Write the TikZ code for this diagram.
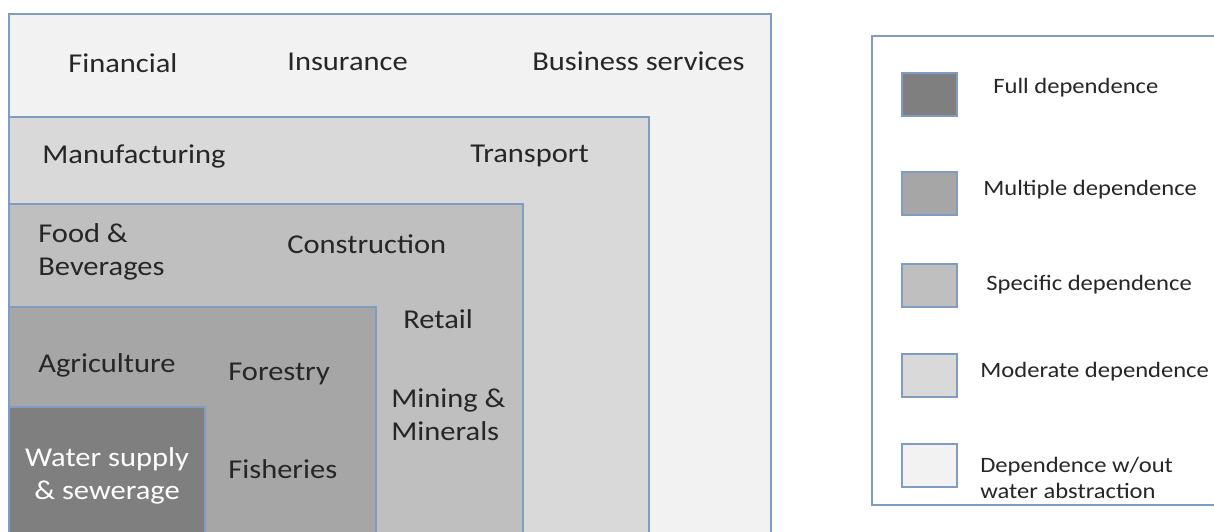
\documentclass[tikz,border=0pt]{standalone}
\usepackage{fontspec}
\setmainfont{Carlito}[FakeStretch=1.12]
\usetikzlibrary{positioning}
\definecolor{edgeblue}{HTML}{7F9DC2}
\definecolor{fullgray}{HTML}{7F7F7F}
\definecolor{multigray}{HTML}{A6A6A6}
\definecolor{specgray}{HTML}{BFBFBF}
\definecolor{modgray}{HTML}{D9D9D9}
\definecolor{nowatergray}{HTML}{F2F2F2}
\tikzset{tier/.style={
            draw=edgeblue,
            line width=0.9pt
        },
        sector/.style={
            inner sep=0pt,
            text=black!85,
            font=\fontsize{15.5}{18.6}\selectfont
        },
        keybox/.style={
            draw=edgeblue,
            line width=0.9pt,
            inner sep=0pt,
            minimum width=1.1cm,
            minimum height=0.86cm
        },
        keytext/.style={
            inner sep=0pt,
            align=left,
            text=black!85,
            font=\fontsize{12.5}{15}\selectfont
        }
    }

\begin{document}
\begin{tikzpicture}
        [x=0.02cm,y=-0.02cm]

        \clip (0,0) rectangle (1214,531);

        \draw[tier,fill=nowatergray] (9,14) rectangle (771,560);
        \draw[tier,fill=modgray] (9,117) rectangle (649,560);
        \draw[tier,fill=specgray] (9,204) rectangle (523,560);
        \draw[tier,fill=multigray] (9,307) rectangle (376,560);
        \draw[tier,fill=fullgray] (9,407) rectangle (205,560);

        \node[sector,anchor=base west] (financial) at (68,72) {Financial};
        \node[sector,anchor=base west] (insurance) at (287,70) {Insurance};
        \node[sector,anchor=base west] (business) at (532,70) {Business services};
        \node[sector,anchor=base west] (manufacturing) at (42,163) {Manufacturing};
        \node[sector,anchor=base west] (transport) at (470,162) {Transport};
        \node[sector,anchor=west,align=left] (food) at (38,252) {Food \& \\ Beverages};
        \node[sector,anchor=base west] (construction) at (287,253) {Construction};
        \node[sector,anchor=base west] (retail) at (403,328) {Retail};
        \node[sector,anchor=west,align=left] (mining) at (391,415) {Mining \& \\ Minerals};
        \node[sector,anchor=base west] (agriculture) at (38,372) {Agriculture};
        \node[sector,anchor=base west] (forestry) at (228,380) {Forestry};
        \node[sector,align=center,text=white] (water) at (107,476) {Water supply \\ \& sewerage};
        \node[sector,anchor=base west] (fisheries) at (228,478) {Fisheries};

        \draw[tier,fill=white] (872,36) rectangle (1230,505);

        \node[keybox,fill=fullgray] (fullkey) at (929.5,94.5) {};
        \node[keybox,fill=multigray] (multikey) at (929.5,193.5) {};
        \node[keybox,fill=specgray] (speckey) at (929.5,285.5) {};
        \node[keybox,fill=modgray] (modkey) at (929.5,375.5) {};
        \node[keybox,fill=nowatergray] (nowaterkey) at (929.5,465.5) {};

        \node[keytext,anchor=base west] (fulltext) at (993,93) {Full dependence};
        \node[keytext,anchor=base west] (multitext) at (983,195) {Multiple dependence};
        \node[keytext,anchor=base west] (spectext) at (986,290) {Specific dependence};
        \node[keytext,anchor=base west] (modtext) at (980,377) {Moderate dependence};
        \node[keytext,anchor=west] (nowatertext) at (980,478) {Dependence w/out \\ water abstraction};

    \end{tikzpicture}
\end{document}
